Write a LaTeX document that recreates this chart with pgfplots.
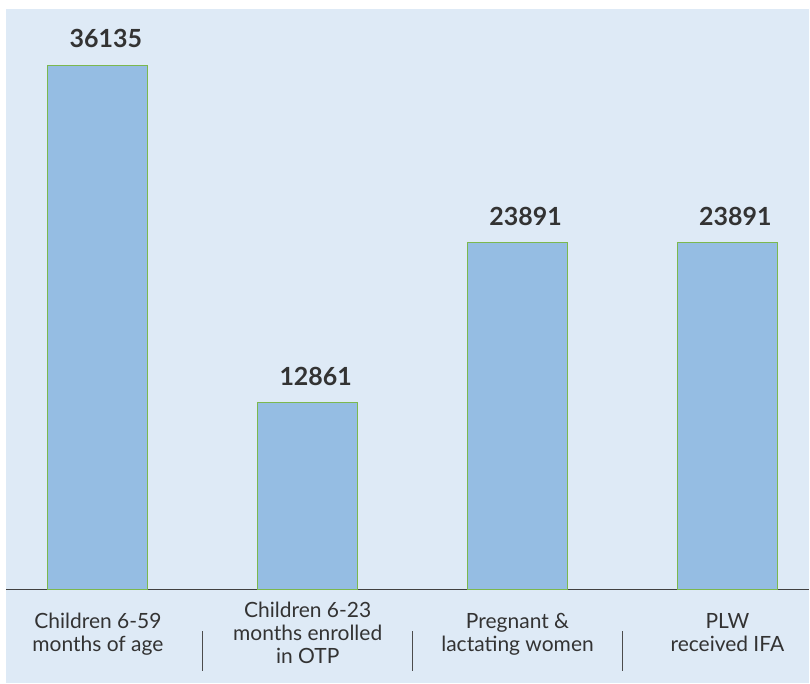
\documentclass[border=0pt]{standalone}
\usepackage{pgfplots}
\pgfplotsset{compat=1.18}
\usepackage{fontspec}
\setmainfont{Lato}
\definecolor{bgc}{HTML}{DEEAF6}
\definecolor{barc}{HTML}{95BDE3}
\definecolor{edgec}{HTML}{7CB84E}
\definecolor{txtc}{HTML}{333333}
\begin{document}
\begin{tikzpicture}[x=1pt,y=1pt]
\fill[white] (0,0) rectangle (810,684);
\fill[bgc] (6,0) rectangle (810,675);
\begin{axis}[
  at={(6pt,94pt)}, anchor=south west,
  scale only axis, width=804pt, height=581pt,
  xmin=-0.438, xmax=3.390, ymin=0, ymax=40000,
  axis x line*=bottom, hide y axis,
  x axis line style={-, draw=black!75, line width=1.6pt},
  xtick={0,1,2,3}, major tick length=0pt,
  xticklabels={{\strut Children 6-59\\\strut months of age},{\strut Children 6-23\\\strut months enrolled\\\strut in OTP},{\strut Pregnant \&\\\strut lactating women},{\strut PLW\\\strut received IFA}},
  xticklabel style={align=center, anchor=center, inner sep=0pt, yshift=-46.5pt, font=\fontsize{21}{23}\selectfont, text=txtc},
  ybar, bar width=100pt,
  nodes near coords,
  /pgf/number format/assume math mode=true,
  /pgf/number format/1000 sep={},
  every node near coord/.append style={font=\fontsize{25}{28}\selectfont\bfseries, text=txtc, inner sep=0pt, yshift=17pt, xshift=8pt},
  clip=false,
]
\addplot[fill=barc, draw=edgec, line width=1.1pt] coordinates {(0,36135) (1,12861) (2,23891) (3,23891)};
\draw[black!70, line width=0.8pt] ([yshift=-42pt]axis cs:0.5,0) -- ([yshift=-82pt]axis cs:0.5,0);
\draw[black!70, line width=0.8pt] ([yshift=-42pt]axis cs:1.5,0) -- ([yshift=-82pt]axis cs:1.5,0);
\draw[black!70, line width=0.8pt] ([yshift=-42pt]axis cs:2.5,0) -- ([yshift=-82pt]axis cs:2.5,0);
\end{axis}
\end{tikzpicture}
\end{document}
